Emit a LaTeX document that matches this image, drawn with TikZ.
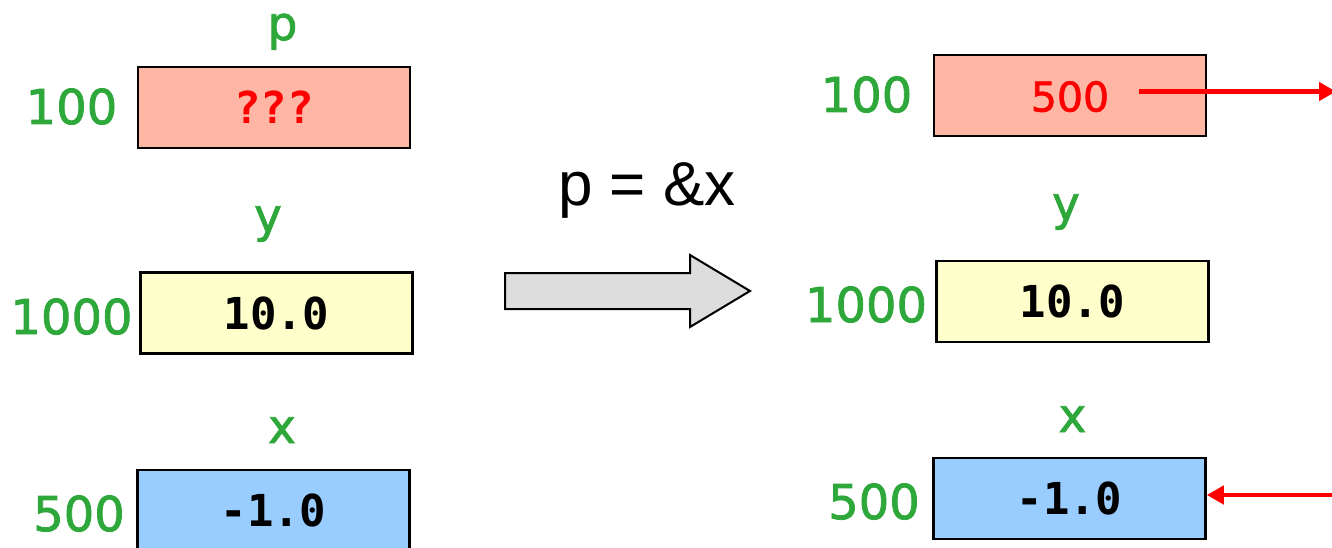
\documentclass[tikz,border=0pt]{standalone}
\usepackage{fontspec}
\newfontfamily\labfont{DejaVu Sans}[FakeBold=1.6]
\newfontfamily\monofont{DejaVu Sans Mono}
\newfontfamily\helvfont{Liberation Sans}
\usetikzlibrary{arrows.meta}
\definecolor{labgreen}{HTML}{2EA83A}
\definecolor{salmon}{HTML}{FFB6A4}
\definecolor{paleyellow}{HTML}{FFFFCC}
\definecolor{paleblue}{HTML}{99CCFF}
\definecolor{arrowgray}{HTML}{DDDDDD}
\begin{document}
\begin{tikzpicture}[x=1pt,y=-1pt,
  memcell/.style={draw=black, line width=2.5pt, minimum width=272pt, minimum height=81pt,
    inner sep=0pt, font=\monofont\bfseries\fontsize{44}{50}\selectfont, text height=32pt, text depth=0pt},
  addr/.style={anchor=base, text=labgreen, font=\labfont\fontsize{48}{54}\selectfont, inner sep=0pt},
  varname/.style={anchor=base, text=labgreen, font=\labfont\fontsize{47}{52}\selectfont, inner sep=0pt},
  ptr/.style={draw=red, line width=4.5pt, -{Triangle[length=17pt,width=18pt]}}
]
\useasboundingbox (0,0) rectangle (1332,548);
\clip (0,0) rectangle (1332,548);
% left state
\node[memcell, fill=salmon, text=red] (lp) at (274,107.5) {???};
\node[memcell, fill=paleyellow] (ly) at (276.5,313) {10.0};
\node[memcell, fill=paleblue] (lx) at (273.5,510.5) {-1.0};
\node[varname] (lpn) at (282.5,40) {p};
\node[varname] (lyn) at (268,232) {y};
\node[varname] (lxn) at (282,443) {x};
\node[addr] (lpa) at (71.5,124) {100};
\node[addr] (lya) at (71.5,334) {1000};
\node[addr] (lxa) at (79,531) {500};
% operation
\node[anchor=base, font=\helvfont\fontsize{62}{66}\selectfont, inner sep=0pt] (op) at (647,205) {p = \&x};
\draw[fill=arrowgray, draw=black, line width=2pt, line join=miter]
  (505,273) -- (690,273) -- (690,255) -- (750,291) -- (690,327) -- (690,309) -- (505,309) -- cycle;
% right state
\node[memcell, fill=salmon, text=red, font=\labfont\fontsize{41}{50}\selectfont] (rp) at (1070,95.5) {500};
\node[memcell, fill=paleyellow] (ry) at (1072.5,301.5) {10.0};
\node[memcell, fill=paleblue] (rx) at (1069.5,498.5) {-1.0};
\node[varname] (ryn) at (1066,220) {y};
\node[varname] (rxn) at (1072.5,432) {x};
\node[addr] (rpa) at (866.5,112) {100};
\node[addr] (rya) at (866,322) {1000};
\node[addr] (rxa) at (874,519) {500};
% pointers
\coordinate (pstart) at (1139,91.5);
\coordinate (pend) at (1336,91.5);
\coordinate (xsrc) at (1334,495);
\draw[ptr] (pstart) -- (pend);
\draw[ptr] (xsrc) -- (rx.east |- xsrc);
\end{tikzpicture}
\end{document}
